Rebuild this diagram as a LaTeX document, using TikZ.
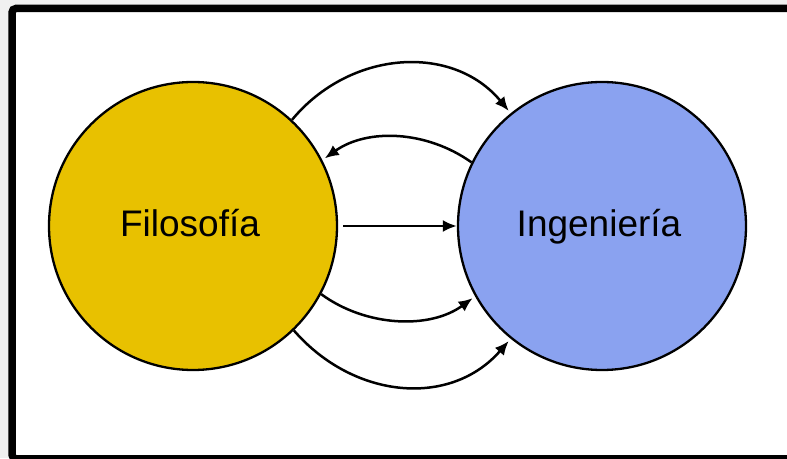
\documentclass[tikz,border=0pt]{standalone}
\usepackage{fontspec}
\setmainfont{Liberation Sans}
\usetikzlibrary{arrows.meta}
\definecolor{gold}{RGB}{232,193,0}
\definecolor{lblue}{RGB}{138,162,240}
\definecolor{outside}{RGB}{240,240,240}
\begin{document}
\begin{tikzpicture}[x=1pt,y=1pt,
  bubble/.style={circle,draw=black,line width=2.3pt,minimum size=288pt,inner sep=0pt},
  label/.style={anchor=base,font=\fontsize{37}{44}\selectfont},
  link/.style={line width=2.5pt,-{Latex[length=14pt,width=12pt]}}]
\useasboundingbox (0,0) rectangle (787,458);
\fill[outside] (0,0) rectangle (787,458);
\begin{scope}
\clip (0,0) rectangle (787,458);
\draw[line width=7.5pt,rounded corners=4pt,fill=white] (12,-0.75) rectangle (830,449.5);
\end{scope}
\node[bubble,fill=gold] (A) at (193,232) {};
\node[bubble,fill=lblue] (B) at (602,232) {};
\node[label] (tA) at (190,221) {Filosofía};
\node[label] (tB) at (599,221) {Ingeniería};
\draw[link,shorten >=3pt] (A.47) .. controls +(58,70) and +(-58,70) .. (B.129);
\draw[link,shorten >=3pt] (B.154) .. controls +(-45,32) and +(45,32) .. (A.27);
\draw[link,shorten <=5pt] (A.east) -- (B.west);
\draw[link,shorten >=3pt] (A.-28) .. controls +(45,-33) and +(-45,-33) .. (B.-151);
\draw[link,shorten >=3pt] (A.-46) .. controls +(60,-69) and +(-60,-69) .. (B.-129);
\end{tikzpicture}
\end{document}
